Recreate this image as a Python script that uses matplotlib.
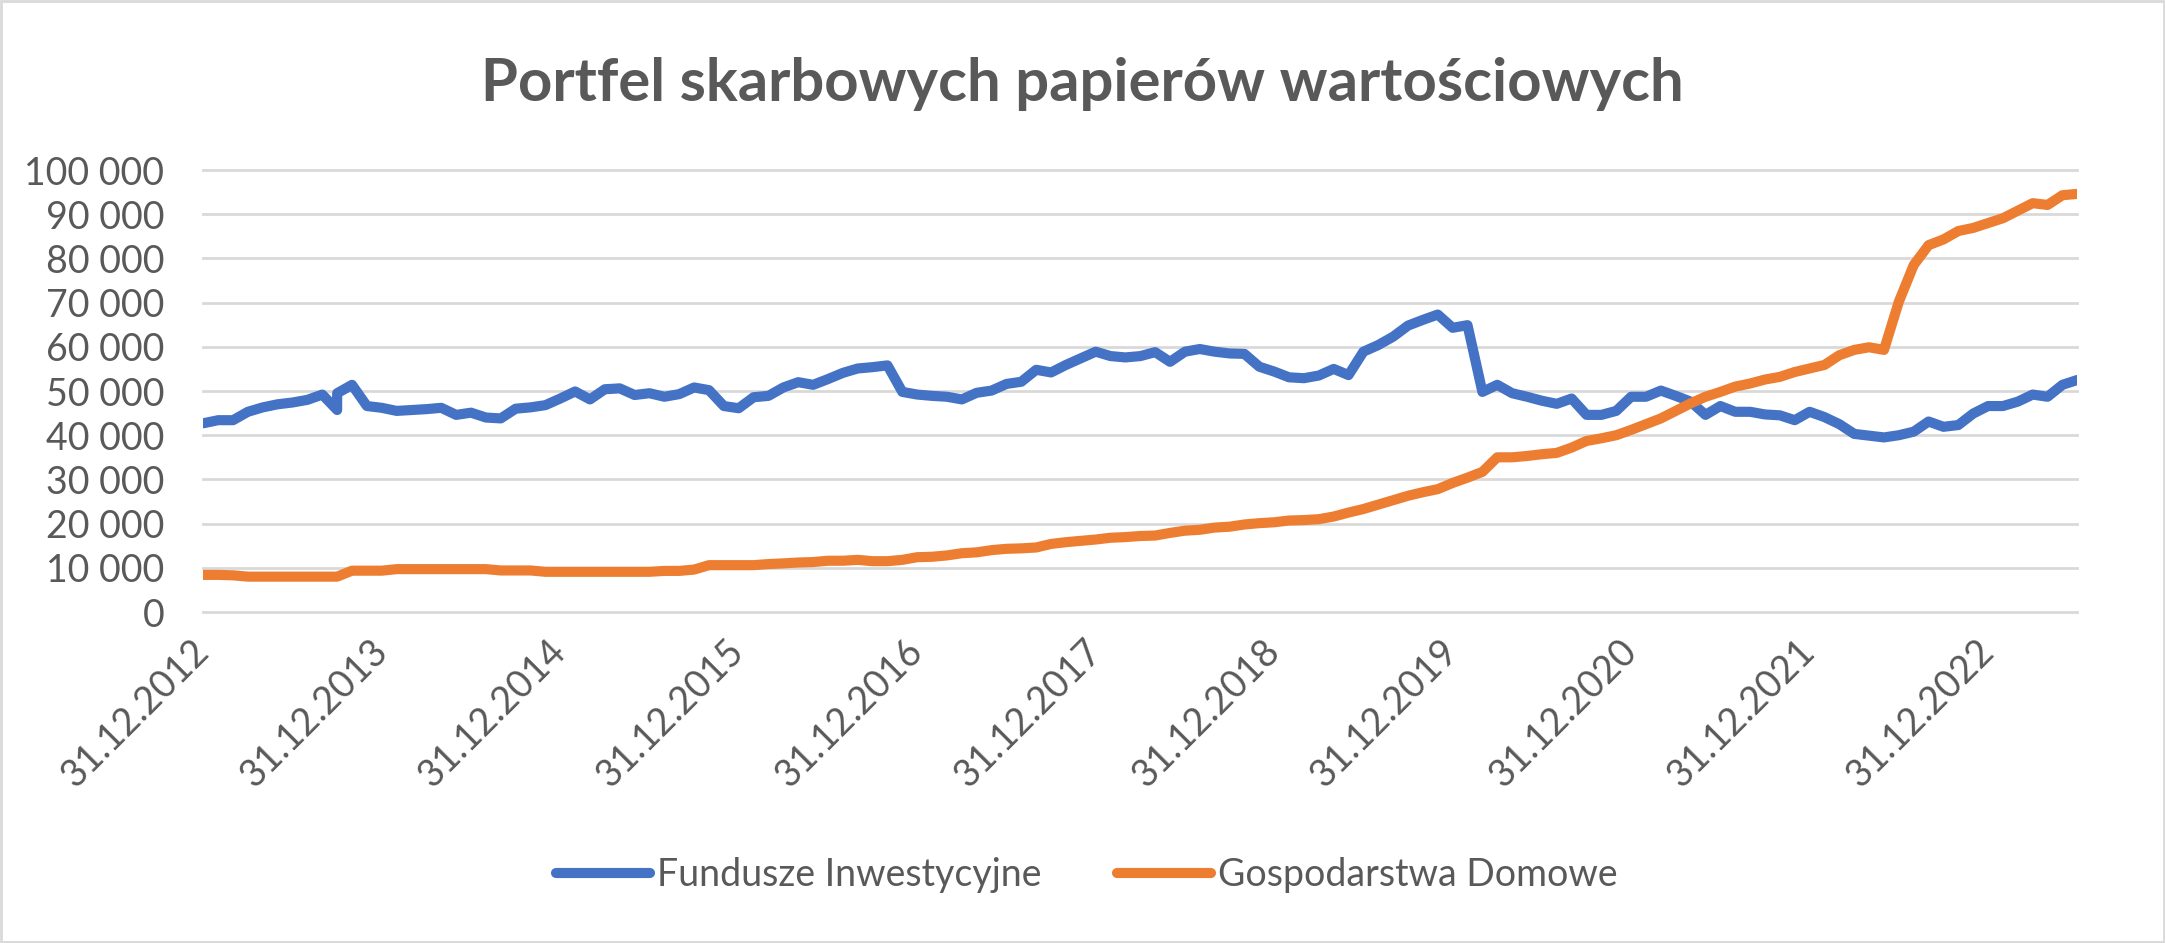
import matplotlib
matplotlib.use("Agg")
import matplotlib.pyplot as plt
from matplotlib.patches import Rectangle
from matplotlib.ticker import FuncFormatter
import pandas as pd

plt.rcParams['font.family'] = ['Lato', 'DejaVu Sans']

# monthly observations 31.12.2012 - 30.06.2023 (one month reported twice in 2013)
dates = list(pd.date_range("2012-12-31", "2023-06-30", freq="ME"))
dates.insert(10, dates[9])

fundusze = [42700, 43400, 43400, 45300, 46300, 47000, 47400, 48000, 49200, 45700,
            49500, 51400, 46600, 46200, 45500, 45700, 45900, 46200, 44600, 45100,
            44000, 43800, 46000, 46300, 46800, 48300, 49900, 48100, 50400, 50600,
            49100, 49500, 48700, 49300, 50800, 50200, 46600, 46100, 48600, 48900,
            50800, 52000, 51400, 52700, 54100, 55100, 55400, 55800, 49800, 49200,
            48900, 48700, 48100, 49600, 50100, 51600, 52100, 54800, 54200, 55900,
            57400, 58900, 57900, 57600, 57900, 58800, 56600, 58900, 59500, 58900,
            58500, 58400, 55500, 54400, 53100, 52900, 53500, 55000, 53600, 58900,
            60400, 62300, 64800, 66100, 67300, 64300, 64900, 49800, 51400, 49500,
            48700, 47800, 47100, 48300, 44600, 44600, 45500, 48700, 48700, 50100,
            48900, 47600, 44600, 46600, 45300, 45300, 44700, 44500, 43400, 45300,
            44100, 42500, 40300, 39900, 39500, 40000, 40800, 43100, 41900, 42300,
            44900, 46600, 46600, 47600, 49200, 48700, 51400, 52500]

gospodarstwa = [8400, 8400, 8300, 8000, 8000, 8000, 8000, 8000, 8000, 8000,
                8000, 9350, 9350, 9350, 9700, 9700, 9700, 9700, 9700, 9700,
                9700, 9400, 9400, 9400, 9100, 9100, 9100, 9100, 9100, 9100,
                9100, 9100, 9300, 9300, 9600, 10600, 10600, 10600, 10600, 10850,
                11000, 11200, 11300, 11600, 11600, 11800, 11500, 11500, 11800, 12400,
                12500, 12800, 13300, 13500, 14000, 14300, 14400, 14600, 15400, 15800,
                16100, 16400, 16800, 16950, 17200, 17300, 17900, 18400, 18600, 19100,
                19300, 19800, 20100, 20300, 20700, 20800, 21000, 21600, 22500, 23300,
                24300, 25300, 26300, 27100, 27800, 29200, 30400, 31700, 35000, 35000,
                35300, 35700, 36000, 37200, 38700, 39300, 40000, 41200, 42500, 43800,
                45500, 47200, 48700, 49800, 51000, 51700, 52600, 53200, 54300, 55100,
                55900, 58100, 59300, 59900, 59300, 70200, 78500, 83000, 84300, 86200,
                86900, 88000, 89100, 90800, 92500, 92100, 94300, 94600]

xlabels = ["31.12.2012", "31.12.2013", "31.12.2014", "31.12.2015", "31.12.2016",
           "31.12.2017", "31.12.2018", "31.12.2019", "31.12.2020", "31.12.2021",
           "31.12.2022"]
yticks = [0, 10000, 20000, 30000, 40000, 50000, 60000, 70000, 80000, 90000, 100000]

start = dates[0]


def month_index(d):
    return (d.year - start.year) * 12 + d.month - start.month


x = [month_index(d) for d in dates]
xtick_pos = [month_index(pd.to_datetime(l, dayfirst=True)) for l in xlabels]

text_col = "#595959"
grid_col = "#D9D9D9"

fig = plt.figure(figsize=(21.65, 9.43), dpi=100)
ax = fig.add_axes([0.0939, 0.351, 0.8656, 0.4687])

ax.plot(x, fundusze, color="#4472C4", lw=7.3, solid_capstyle="round",
        solid_joinstyle="round", label="Fundusze Inwestycyjne", zorder=3)
ax.plot(x, gospodarstwa, color="#ED7D31", lw=7.3, solid_capstyle="round",
        solid_joinstyle="round", label="Gospodarstwa Domowe", zorder=3)

ax.set_xlim(x[0], x[-1])
ax.set_ylim(yticks[0], yticks[-1])
ax.set_yticks(yticks)
ax.yaxis.set_major_formatter(FuncFormatter(lambda v, p: f"{v:,.0f}".replace(",", " ")))
ax.set_xticks(xtick_pos)
ax.set_xticklabels(xlabels, rotation=45, ha="right", va="center", rotation_mode="anchor")

ax.grid(axis="y", color=grid_col, lw=2)
for gl in ax.get_ygridlines():
    gl.set_clip_on(False)
ax.set_axisbelow(True)
for s in ax.spines.values():
    s.set_visible(False)

ax.tick_params(axis="y", length=0, pad=28, labelsize=27, labelcolor=text_col)
ax.tick_params(axis="x", length=0, pad=24, labelsize=27, labelcolor=text_col)
for lbl in ax.get_xticklabels():
    lbl.set_x(lbl.get_position()[0])

fig.text(0.5, 0.911, "Portfel skarbowych papierów wartościowych", ha="center",
         va="center", fontsize=43, fontweight="bold", color=text_col)

leg = fig.legend(loc="center", bbox_to_anchor=(0.502, 0.072), ncol=2, frameon=False,
                 fontsize=27, handlelength=2.5, handletextpad=0.2, columnspacing=2.0)
for t in leg.get_texts():
    t.set_color(text_col)

fig.patches.append(Rectangle((0.0005, 0.001), 0.999, 0.998, transform=fig.transFigure,
                             fill=False, edgecolor=grid_col, lw=2))

fig.savefig("out.png", dpi=100, facecolor="white")
